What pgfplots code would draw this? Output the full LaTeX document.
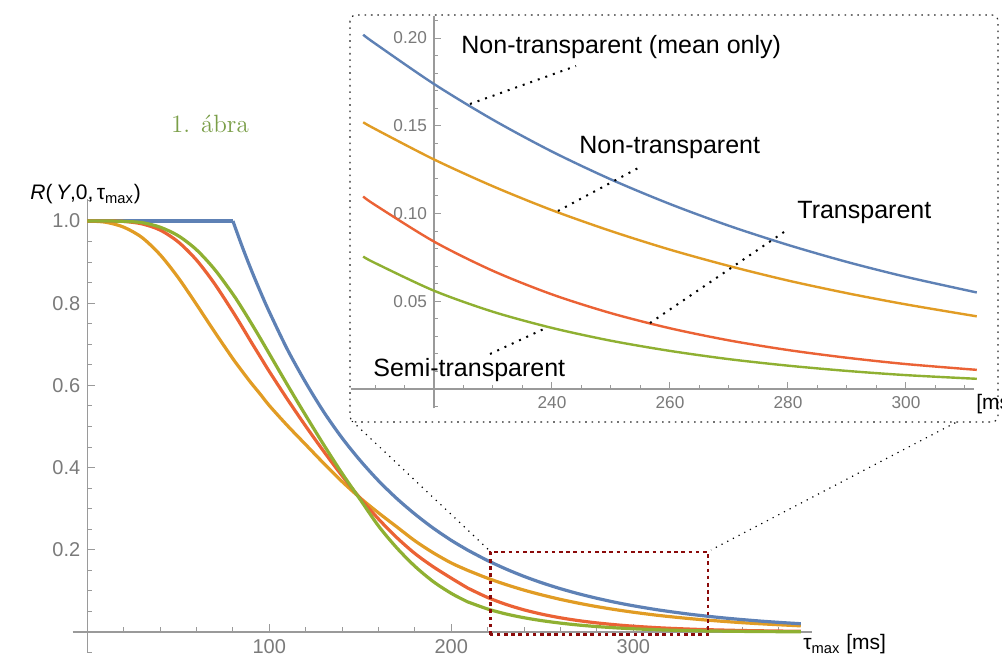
\documentclass[border=0pt]{standalone}
\usepackage{fontspec}
\usepackage{pgfplots}
\usepackage{pgfplotstable}
\pgfplotsset{compat=1.18}
\newfontfamily\sans{Liberation Sans}
\definecolor{cblue}{HTML}{5E81B5}
\definecolor{corange}{HTML}{E19C24}
\definecolor{cgreen}{HTML}{8FB032}
\definecolor{cred}{HTML}{EB6235}
\definecolor{axisgray}{HTML}{9A9A9A}
\definecolor{labelgray}{HTML}{7A7A7A}
\definecolor{boxred}{HTML}{8B0A0A}
\definecolor{titlegreen}{HTML}{7A9E48}

\pgfplotstableread{
x b o r g
0 1 1 1 1
10 1 0.997 1.000 1.000
20 1 0.985 0.999 0.999
30 1 0.960 0.993 0.996
40 1 0.918 0.978 0.985
50 1 0.862 0.949 0.964
60 1 0.797 0.905 0.930
70 1 0.730 0.847 0.882
80 1 0.665 0.779 0.822
85 0.939 0.635 0.743 0.788
90 0.882 0.606 0.706 0.752
95 0.829 0.579 0.670 0.715
100 0.779 0.551 0.634 0.677
110 0.687 0.502 0.566 0.601
120 0.607 0.456 0.501 0.527
130 0.535 0.410 0.439 0.455
140 0.472 0.366 0.380 0.386
150 0.417 0.326 0.325 0.322
160 0.368 0.290 0.275 0.258
170 0.325 0.256 0.230 0.205
180 0.287 0.222 0.191 0.160
190 0.253 0.193 0.159 0.123
200 0.223 0.168 0.1310 0.094
208 0.2019 0.1520 0.1097 0.0755
210 0.1969 0.1482 0.1049 0.0718
220 0.1738 0.1308 0.0840 0.0560
230 0.1534 0.1155 0.0673 0.0440
240 0.1353 0.1019 0.0539 0.0348
250 0.1194 0.0900 0.0432 0.0275
260 0.1054 0.0794 0.0346 0.0217
270 0.0930 0.0701 0.0277 0.0170
280 0.0821 0.0618 0.0222 0.0133
290 0.0724 0.0546 0.0178 0.0103
300 0.0639 0.0482 0.0142 0.0079
312 0.0550 0.0414 0.0109 0.0058
320 0.0498 0.0375 0.0091 0.0046
330 0.0439 0.0331 0.0073 0.0035
340 0.0388 0.0292 0.0058 0.0027
350 0.0342 0.0258 0.0047 0.0021
360 0.0302 0.0227 0.0037 0.0016
370 0.0266 0.0201 0.0030 0.0012
380 0.0235 0.0177 0.0024 0.0009
392 0.0202 0.0151 0.0018 0.0007
}\curves

\newcommand\tickfont{\sans\fontsize{10}{12}\selectfont}
\newcommand\itickfont{\sans\fontsize{8.6}{10}\selectfont}
\newcommand\annfont{\sans\fontsize{12.5}{14}\selectfont}

\begin{document}
\begin{tikzpicture}
\useasboundingbox (0pt,0pt) rectangle (501pt,328.5pt);

% ---------------- main axis ----------------
\begin{axis}[
  at={(36.35pt,2.2pt)}, anchor=south west,
  scale only axis, width=369.5pt, height=226.7pt,
  xmin=-8, xmax=398, ymin=-0.05, ymax=1.053,
  axis lines=middle,
  axis line style={draw=axisgray, line width=0.7pt, -},
  xtick={100,200,300}, xticklabels={100,200,300},
  minor xtick={20,40,60,80,120,140,160,180,220,240,260,280,320,340,360,380},
  ytick={0.2,0.4,0.6,0.8,1.0}, yticklabels={0.2,0.4,0.6,0.8,1.0},
  minor ytick={-0.05,0.05,0.1,0.15,0.25,0.3,0.35,0.45,0.5,0.55,0.65,0.7,0.75,0.85,0.9,0.95,1.05},
  tick align=inside,
  major tick length=4pt, minor tick length=2.5pt,
  every tick/.style={draw=axisgray, line width=0.6pt},
  every minor tick/.style={draw=axisgray, line width=0.5pt},
  tick label style={font=\tickfont, text=labelgray},
  clip=false,
]
\addplot[cblue, line width=1.6pt, restrict x to domain=0:80] table[x=x,y=b]{\curves};
\addplot[corange, line width=1.6pt, smooth] table[x=x,y=o]{\curves};
\addplot[cred, line width=1.6pt, smooth] table[x=x,y=r]{\curves};
\addplot[cgreen, line width=1.6pt, smooth] table[x=x,y=g]{\curves};
\addplot[cblue, line width=1.6pt, smooth, restrict x to domain=80:392] table[x=x,y=b]{\curves};
\draw[boxred, line width=1.1pt, dash pattern=on 1.8pt off 1.8pt]
  (axis cs:221.5,-0.006) rectangle (axis cs:341,0.195);
\end{axis}

% ---------------- overlay in pixel coordinates ----------------
\begin{scope}[x=0.5pt, y=-0.5pt, shift={(0pt,328.5pt)}]
  % connecting lines
  \draw[black, line width=0.6pt, dash pattern=on 0.6pt off 2.6pt] (352,421) -- (491,552);
  \draw[black, line width=0.6pt, dash pattern=on 0.6pt off 2.6pt] (995,402) -- (711,550);
  % inset frame
  \fill[white, rounded corners=3pt] (350,15) rectangle (998,422);
  \draw[black!85, line width=0.6pt, dash pattern=on 0.8pt off 2.4pt, rounded corners=3pt] (350,15) rectangle (998,422);
  % titles
  \node[text=titlegreen, font=\fontsize{12.5}{14}\selectfont] at (210,124) {1. ábra};
  \node[anchor=base west, inner sep=0pt, font=\sans\fontsize{10.5}{12}\selectfont] at (30,200)
     {\itshape R\upshape(\,\itshape Y\upshape,0,\,τ\textsubscript{max})};
  \node[anchor=base west, inner sep=0pt, font=\sans\fontsize{10.5}{12}\selectfont] at (803,650)
     {τ\textsubscript{max} [ms]};
\end{scope}

% ---------------- inset axis ----------------
\begin{axis}[
  at={(175.7pt,124.35pt)}, anchor=south west,
  scale only axis, width=311.2pt, height=196.1pt,
  xmin=-14, xmax=91.5, ymin=-0.011, ymax=0.2125,
  axis lines=middle,
  axis line style={draw=axisgray, line width=0.6pt, -},
  xtick={20,40,60,80}, xticklabels={240,260,280,300},
  minor xtick={-10,-5,5,10,15,25,30,35,45,50,55,65,70,75,85,90},
  ytick={0.05,0.1,0.15,0.2}, yticklabels={0.05,0.10,0.15,0.20},
  minor ytick={-0.01,0.01,0.02,0.03,0.04,0.06,0.07,0.08,0.09,0.11,0.12,0.13,0.14,0.16,0.17,0.18,0.19,0.21},
  tick align=inside,
  major tick length=3.5pt, minor tick length=2pt,
  every tick/.style={draw=axisgray, line width=0.5pt},
  every minor tick/.style={draw=axisgray, line width=0.5pt},
  tick label style={font=\itickfont, text=labelgray},
  clip=false,
]
\addplot[cblue, line width=1.2pt, smooth, restrict x to domain=-12.01:92.01] table[x expr=\thisrow{x}-220,y=b]{\curves};
\addplot[corange, line width=1.2pt, smooth, restrict x to domain=-12.01:92.01] table[x expr=\thisrow{x}-220,y=o]{\curves};
\addplot[cred, line width=1.2pt, smooth, restrict x to domain=-12.01:92.01] table[x expr=\thisrow{x}-220,y=r]{\curves};
\addplot[cgreen, line width=1.2pt, smooth, restrict x to domain=-12.01:92.01] table[x expr=\thisrow{x}-220,y=g]{\curves};
\end{axis}

\begin{scope}[x=0.5pt, y=-0.5pt, shift={(0pt,328.5pt)}]
  \node[anchor=west, inner sep=0pt, font=\sans\fontsize{10.5}{12}\selectfont] at (976,404) {[ms]};
  \tikzset{ptr/.style={black, line width=1pt, dash pattern=on 1pt off 3pt}}
  \node[anchor=west, inner sep=0pt, font=\annfont] at (461,47) {Non-transparent (mean only)};
  \draw[ptr] (470,104) -- (576,66);
  \node[anchor=west, inner sep=0pt, font=\annfont] at (579,148) {Non-transparent};
  \draw[ptr] (558,211) -- (642,166);
  \node[anchor=west, inner sep=0pt, font=\annfont] at (797,213) {Transparent};
  \draw[ptr] (650,323) -- (787,230);
  \node[anchor=west, inner sep=0pt, font=\annfont] at (373,370) {Semi-transparent};
  \draw[ptr] (490,354) -- (548,327);
\end{scope}
\end{tikzpicture}
\end{document}
